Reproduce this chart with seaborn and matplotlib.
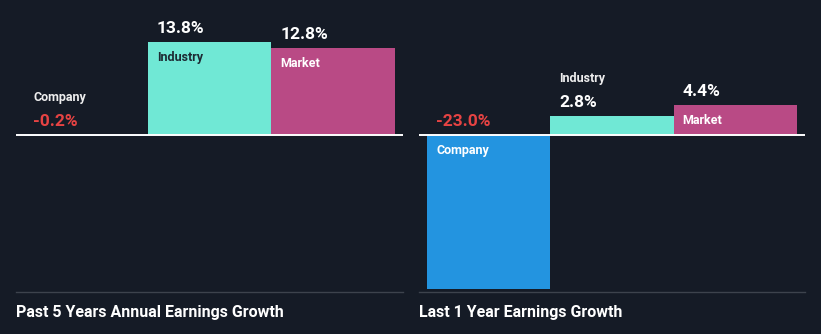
import matplotlib
matplotlib.use("Agg")
import matplotlib.pyplot as plt
import seaborn as sns
import pandas as pd

# Earnings growth figures (%)
categories = ["Company", "Industry", "Market"]
past_5y_growth = [-0.2, 13.8, 12.8]
last_1y_growth = [-23.0, 2.8, 4.4]
panel_titles = ["Past 5 Years Annual Earnings Growth", "Last 1 Year Earnings Growth"]

BG = "#151b26"
palette = {"Company": "#2394e0", "Industry": "#70e8d5", "Market": "#b94a85"}
VALUE_RED = "#e64343"

sns.set_theme(style="dark")
plt.rcParams["font.family"] = ["Roboto", "DejaVu Sans"]

W, H = 821, 334
fig = plt.figure(figsize=(W / 100, H / 100), dpi=100, facecolor=BG)


def px_axes(x0, x1, y_top, y_bot):
    return fig.add_axes([x0 / W, 1 - y_bot / H, (x1 - x0) / W, (y_bot - y_top) / H])


def luminance(hex_color):
    r, g, b = (int(hex_color[i:i + 2], 16) / 255 for i in (1, 3, 5))
    return 0.299 * r + 0.587 * g + 0.114 * b


def draw_panel(ax, values, title, title_x):
    df = pd.DataFrame({"category": categories, "growth": values})
    sns.barplot(data=df, x="category", y="growth", hue="category",
                palette=palette, width=1.0, dodge=False, legend=False,
                linewidth=0, saturation=1, ax=ax)
    ax.set_facecolor(BG)
    ax.set_xlim(-0.565, 2.565)
    ax.set_ylim(-23.4, 20.0)
    ax.set_xticks([])
    ax.set_yticks([])
    ax.set_xlabel("")
    ax.set_ylabel("")
    for side in ("top", "left", "right"):
        ax.spines[side].set_visible(False)
    ax.spines["bottom"].set_color("#3d434d")
    ax.spines["bottom"].set_linewidth(1.0)
    ax.axhline(0, color="white", lw=1.4, zorder=5)

    for i, (cat, v) in enumerate(zip(categories, values)):
        anchor = max(v, 0)
        val_color = VALUE_RED if v < 0 else "white"
        ax.annotate(f"{v:.1f}%", (i - 0.5, anchor), xytext=(9, 13.5),
                    textcoords="offset pixels", ha="left", va="center",
                    fontsize=12.5, fontweight="bold", color=val_color, zorder=6)
        if abs(v) > 3.5:
            lab_color = "#1d2a33" if luminance(palette[cat]) > 0.6 else "white"
            dy = -15.5
        else:
            lab_color = "#eeeeee"
            dy = 37.5
        ax.annotate(cat, (i - 0.5, anchor), xytext=(9, dy),
                    textcoords="offset pixels", ha="left", va="center",
                    fontsize=9, fontweight="bold", color=lab_color, zorder=6)

    fig.text(title_x / W, 1 - 313 / H, title, ha="left", va="center",
             fontsize=11.5, fontweight="bold", color="white")


ax1 = px_axes(16, 403, 0, 292)
draw_panel(ax1, past_5y_growth, panel_titles[0], 16)
ax2 = px_axes(419, 805, 0, 292)
draw_panel(ax2, last_1y_growth, panel_titles[1], 419)

fig.savefig("out.png", dpi=100, facecolor=BG)
